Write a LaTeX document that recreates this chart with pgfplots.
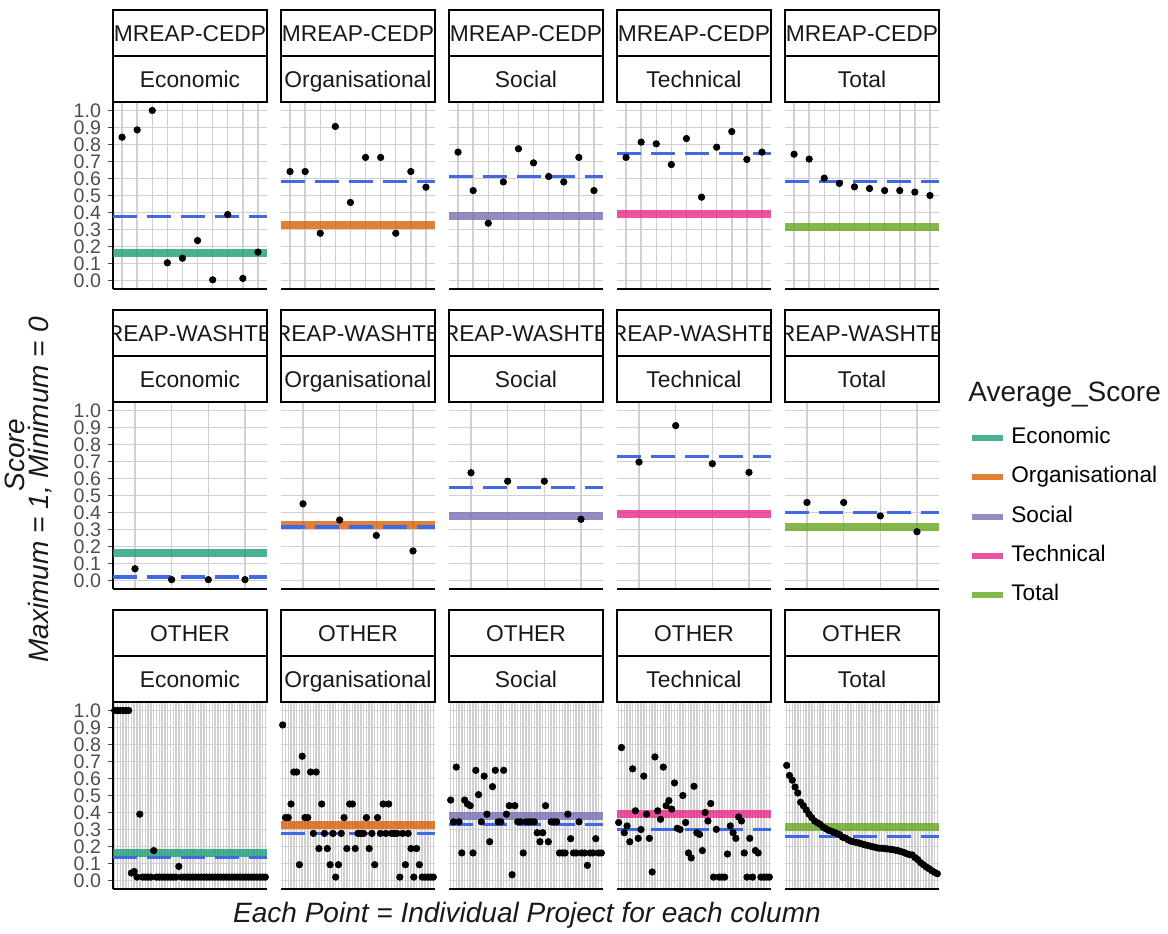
\documentclass[border=0pt]{standalone}
\usepackage{pgfplots}
\pgfplotsset{compat=1.18}
\usepackage{pgfplotstable}
\usepackage{fontspec}
\setmainfont{Liberation Sans}

\definecolor{econ}{HTML}{1B9E77}
\definecolor{org}{HTML}{D95F02}
\definecolor{soc}{HTML}{7570B3}
\definecolor{tech}{HTML}{E7298A}
\definecolor{tot}{HTML}{66A61E}
\definecolor{dashblue}{HTML}{4169E1}
\definecolor{gridgray}{RGB}{208,208,208}
\definecolor{tickgray}{HTML}{4D4D4D}

% MREAP-CEDP
\pgfplotstableread{
i econ org soc tech tot
1 0.843 0.641 0.755 0.724 0.743
2 0.886 0.641 0.529 0.814 0.714
3 1.000 0.278 0.337 0.804 0.602
4 0.104 0.906 0.580 0.682 0.571
5 0.131 0.459 0.775 0.835 0.551
6 0.235 0.724 0.692 0.490 0.541
7 0.004 0.724 0.612 0.784 0.529
8 0.388 0.278 0.580 0.876 0.529
9 0.012 0.641 0.724 0.712 0.520
10 0.167 0.549 0.529 0.755 0.500
}\rowA
% REAP-WASHTE
\pgfplotstableread{
i econ org soc tech tot
1 0.069 0.451 0.634 0.697 0.459
2 0.005 0.356 0.584 0.911 0.459
3 0.005 0.265 0.584 0.687 0.380
4 0.005 0.174 0.360 0.636 0.287
}\rowB
% OTHER
\pgfplotstableread{
i econ org soc tech tot
1 1.000 0.915 0.473 0.341 0.677
2 1.000 0.370 0.345 0.782 0.618
3 1.000 0.370 0.667 0.281 0.590
4 1.000 0.450 0.345 0.321 0.550
5 1.000 0.638 0.162 0.228 0.515
6 1.000 0.638 0.473 0.657 0.460
7 0.044 0.093 0.450 0.410 0.440
8 0.053 0.731 0.440 0.248 0.415
9 0.020 0.370 0.162 0.300 0.390
10 0.390 0.370 0.648 0.614 0.370
11 0.020 0.638 0.505 0.390 0.350
12 0.020 0.277 0.345 0.248 0.340
13 0.020 0.638 0.614 0.050 0.330
14 0.020 0.188 0.390 0.727 0.315
15 0.176 0.450 0.228 0.410 0.305
16 0.020 0.277 0.552 0.360 0.295
17 0.020 0.188 0.648 0.667 0.290
18 0.020 0.093 0.345 0.440 0.283
19 0.020 0.277 0.345 0.470 0.276
20 0.020 0.020 0.648 0.420 0.270
21 0.020 0.093 0.390 0.574 0.255
22 0.020 0.277 0.440 0.307 0.250
23 0.020 0.370 0.034 0.300 0.240
24 0.083 0.188 0.440 0.500 0.232
25 0.020 0.450 0.345 0.341 0.228
26 0.020 0.450 0.345 0.162 0.224
27 0.020 0.188 0.162 0.133 0.220
28 0.020 0.277 0.345 0.554 0.215
29 0.020 0.277 0.345 0.281 0.210
30 0.020 0.277 0.345 0.271 0.206
31 0.020 0.370 0.345 0.176 0.202
32 0.020 0.188 0.281 0.400 0.198
33 0.020 0.277 0.228 0.350 0.194
34 0.020 0.093 0.281 0.453 0.190
35 0.020 0.370 0.440 0.020 0.190
36 0.020 0.277 0.228 0.301 0.188
37 0.020 0.450 0.345 0.020 0.186
38 0.020 0.277 0.345 0.020 0.184
39 0.020 0.450 0.345 0.020 0.182
40 0.020 0.277 0.162 0.156 0.178
41 0.020 0.277 0.162 0.321 0.175
42 0.020 0.277 0.162 0.281 0.170
43 0.020 0.020 0.390 0.248 0.165
44 0.020 0.277 0.246 0.374 0.158
45 0.020 0.093 0.162 0.350 0.152
46 0.020 0.277 0.162 0.162 0.150
47 0.020 0.188 0.345 0.020 0.135
48 0.020 0.020 0.162 0.248 0.123
49 0.020 0.188 0.162 0.020 0.105
50 0.020 0.093 0.089 0.176 0.093
51 0.020 0.020 0.162 0.162 0.080
52 0.020 0.020 0.162 0.020 0.070
53 0.020 0.020 0.246 0.020 0.058
54 0.020 0.020 0.162 0.020 0.048
55 0.020 0.020 0.162 0.020 0.040
}\rowC

\pgfplotsset{
  facet/.style={
    scale only axis, width=77pt, height=93.5pt, anchor=south west,
    ymin=-0.05, ymax=1.05,
    ytick={0,0.1,0.2,0.3,0.4,0.5,0.6,0.7,0.8,0.9,1},
    grid=major, major grid style={draw=gridgray, line width=0.75pt},
    axis x line*=bottom, axis y line*=left,
    axis line style={-},
    x axis line style={-, black, line width=0.8pt},
    xticklabels={}, xtick style={draw=none},
    tick align=outside, major tick length=2.5pt,
  },
  firstcol/.style={
    yticklabel style={font=\fontsize{9.8}{10}\selectfont, text=tickgray,
      /pgf/number format/fixed, /pgf/number format/fixed zerofill,
      /pgf/number format/precision=1, /pgf/number format/assume math mode=true},
    ytick style={draw=tickgray, line width=0.5pt},
    y axis line style={-, black, line width=0.8pt},
  },
  othercol/.style={
    yticklabels={}, ytick style={draw=none},
    y axis line style={draw=none},
  },
}

% #1 options, #2 n, #3 xmax, #4 table, #5 column, #6 group mean, #7 overall mean, #8 colour
\newcommand{\facet}[8]{%
\begin{axis}[facet, #1, xmin=0.4, xmax=#3, xtick={1,...,#2}]
\addplot[only marks, mark=*, mark size=1.6pt, black, forget plot] table[x=i, y=#5] {#4};
\addplot[draw=#8, line width=4pt, draw opacity=0.8, forget plot] coordinates {(0.4,#7) (#3,#7)};
\addplot[draw=dashblue, line width=1.6pt, dash pattern=on 12pt off 5pt, forget plot] coordinates {(0.4,#6) (#3,#6)};
\end{axis}}

\newcommand{\stripfont}{\fontsize{11.4}{13}\selectfont}
% #1 left, #2 bottom, #3 top text, #4 lower text
\newcommand{\strips}[4]{%
  \begin{scope}
    \clip (#1,#2+93.5pt) rectangle ++(77pt,23pt);
    \node[font=\stripfont, text=black!90, anchor=base, inner sep=0pt] at (#1+38.5pt,#2+100.9pt) {#4};
  \end{scope}
  \draw[line width=0.7pt] (#1,#2+93.5pt) rectangle ++(77pt,23pt);
  \begin{scope}
    \clip (#1,#2+116.5pt) rectangle ++(77pt,23pt);
    \node[font=\stripfont, text=black!90, anchor=base, inner sep=0pt] at (#1+38.5pt,#2+123.9pt) {#3};
  \end{scope}
  \draw[line width=0.7pt] (#1,#2+116.5pt) rectangle ++(77pt,23pt);
}

\begin{document}
\begin{tikzpicture}
\useasboundingbox (0,0) rectangle (584pt,466.5pt);

% Row 1: MREAP-CEDP
\facet{firstcol, at={(56.5pt,322pt)}}{10}{10.6}{\rowA}{econ}{0.377}{0.16}{econ}
\facet{othercol, at={(140.5pt,322pt)}}{10}{10.6}{\rowA}{org}{0.58}{0.325}{org}
\facet{othercol, at={(224.5pt,322pt)}}{10}{10.6}{\rowA}{soc}{0.611}{0.38}{soc}
\facet{othercol, at={(308.5pt,322pt)}}{10}{10.6}{\rowA}{tech}{0.745}{0.39}{tech}
\facet{othercol, at={(392.5pt,322pt)}}{10}{10.6}{\rowA}{tot}{0.58}{0.313}{tot}

% Row 2: REAP-WASHTE
\facet{firstcol, at={(56.5pt,172pt)}}{4}{4.6}{\rowB}{econ}{0.02}{0.16}{econ}
\facet{othercol, at={(140.5pt,172pt)}}{4}{4.6}{\rowB}{org}{0.315}{0.325}{org}
\facet{othercol, at={(224.5pt,172pt)}}{4}{4.6}{\rowB}{soc}{0.545}{0.38}{soc}
\facet{othercol, at={(308.5pt,172pt)}}{4}{4.6}{\rowB}{tech}{0.73}{0.39}{tech}
\facet{othercol, at={(392.5pt,172pt)}}{4}{4.6}{\rowB}{tot}{0.398}{0.313}{tot}

% Row 3: OTHER
\facet{firstcol, at={(56.5pt,22pt)}}{55}{55.6}{\rowC}{econ}{0.137}{0.16}{econ}
\facet{othercol, at={(140.5pt,22pt)}}{55}{55.6}{\rowC}{org}{0.277}{0.325}{org}
\facet{othercol, at={(224.5pt,22pt)}}{55}{55.6}{\rowC}{soc}{0.331}{0.38}{soc}
\facet{othercol, at={(308.5pt,22pt)}}{55}{55.6}{\rowC}{tech}{0.299}{0.39}{tech}
\facet{othercol, at={(392.5pt,22pt)}}{55}{55.6}{\rowC}{tot}{0.257}{0.313}{tot}

% strips
\strips{56.5pt}{322pt}{MREAP-CEDP}{Economic}
\strips{140.5pt}{322pt}{MREAP-CEDP}{Organisational}
\strips{224.5pt}{322pt}{MREAP-CEDP}{Social}
\strips{308.5pt}{322pt}{MREAP-CEDP}{Technical}
\strips{392.5pt}{322pt}{MREAP-CEDP}{Total}
\strips{56.5pt}{172pt}{REAP-WASHTE}{Economic}
\strips{140.5pt}{172pt}{REAP-WASHTE}{Organisational}
\strips{224.5pt}{172pt}{REAP-WASHTE}{Social}
\strips{308.5pt}{172pt}{REAP-WASHTE}{Technical}
\strips{392.5pt}{172pt}{REAP-WASHTE}{Total}
\strips{56.5pt}{22pt}{OTHER}{Economic}
\strips{140.5pt}{22pt}{OTHER}{Organisational}
\strips{224.5pt}{22pt}{OTHER}{Social}
\strips{308.5pt}{22pt}{OTHER}{Technical}
\strips{392.5pt}{22pt}{OTHER}{Total}

% legend
\begin{axis}[hide axis, scale only axis, width=100pt, height=100pt,
  at={(484.5pt,148.5pt)}, anchor=south west, xmin=0, xmax=1, ymin=0, ymax=1,
  legend style={at={(0,1.045)}, anchor=north west, draw=none, fill=none,
    font=\fontsize{11.3}{13}\selectfont, row sep=9.15pt, column sep=2.5pt, inner sep=0pt,
    nodes={inner sep=0pt, text height=8pt, text depth=2.5pt}},
  legend cell align=left,
  legend image code/.code={\draw[#1, line width=3pt, draw opacity=0.8] (0pt,0pt) -- (15.5pt,0pt);}]
\addlegendimage{econ}
\addlegendimage{org}
\addlegendimage{soc}
\addlegendimage{tech}
\addlegendimage{tot}
\legend{Economic, Organisational, Social, Technical, Total}
\end{axis}
\node[anchor=west, inner sep=0pt, font=\fontsize{14}{16}\selectfont, text=black!90] at (484pt,269pt) {Average\_Score};

% axis titles
\node[rotate=90, font=\fontsize{14}{16}\selectfont\itshape, text=black!90] at (7.5pt,239pt) {Score};
\node[rotate=90, font=\fontsize{14}{16}\selectfont\itshape, text=black!90] at (20pt,221.5pt) {Maximum = 1, Minimum = 0};
\node[font=\fontsize{14}{16}\selectfont\itshape, text=black!90] at (263.5pt,9pt) {Each Point = Individual Project for each column};
\end{tikzpicture}
\end{document}
